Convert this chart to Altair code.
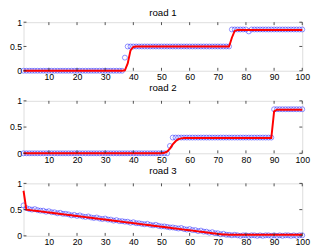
import altair as alt
import pandas as pd

x_index = list(range(1, 101))
x_ticks = [10, 20, 30, 40, 50, 60, 70, 80, 90, 100]
y_ticks = [0, 0.5, 1]
titles = ["road 1", "road 2", "road 3"]

road1_obs = [
    0, 0, 0, 0, 0, 0, 0, 0, 0, 0,
    0, 0, 0, 0, 0, 0, 0, 0, 0, 0,
    0, 0, 0, 0, 0, 0, 0, 0, 0, 0,
    0, 0, 0, 0, 0, 0, 0.27, 0.5, 0.5, 0.5,
    0.5, 0.5, 0.5, 0.5, 0.5, 0.5, 0.5, 0.5, 0.5, 0.5,
    0.5, 0.5, 0.5, 0.5, 0.5, 0.5, 0.5, 0.5, 0.5, 0.5,
    0.5, 0.5, 0.5, 0.5, 0.5, 0.5, 0.5, 0.5, 0.5, 0.5,
    0.5, 0.5, 0.5, 0.5, 0.85, 0.85, 0.85, 0.85, 0.85, 0.85,
    0.81, 0.85, 0.85, 0.85, 0.85, 0.85, 0.85, 0.85, 0.85, 0.85,
    0.85, 0.85, 0.85, 0.85, 0.85, 0.85, 0.85, 0.85, 0.85, 0.85,
]
road1_fit = [
    0, 0, 0, 0, 0, 0, 0, 0, 0, 0,
    0, 0, 0, 0, 0, 0, 0, 0, 0, 0,
    0, 0, 0, 0, 0, 0, 0, 0, 0, 0,
    0, 0, 0, 0, 0, 0, 0.01, 0.15, 0.42, 0.49,
    0.5, 0.5, 0.5, 0.5, 0.5, 0.5, 0.5, 0.5, 0.5, 0.5,
    0.5, 0.5, 0.5, 0.5, 0.5, 0.5, 0.5, 0.5, 0.5, 0.5,
    0.5, 0.5, 0.5, 0.5, 0.5, 0.5, 0.5, 0.5, 0.5, 0.5,
    0.5, 0.5, 0.5, 0.5, 0.68, 0.82, 0.84, 0.84, 0.84, 0.84,
    0.84, 0.84, 0.84, 0.84, 0.84, 0.84, 0.84, 0.84, 0.84, 0.84,
    0.84, 0.84, 0.84, 0.84, 0.84, 0.84, 0.84, 0.84, 0.84, 0.84,
]
road2_obs = [
    0, 0, 0, 0, 0, 0, 0, 0, 0, 0,
    0, 0, 0, 0, 0, 0, 0, 0, 0, 0,
    0, 0, 0, 0, 0, 0, 0, 0, 0, 0,
    0, 0, 0, 0, 0, 0, 0, 0, 0, 0,
    0, 0, 0, 0, 0, 0, 0, 0, 0, 0,
    0, 0, 0.14, 0.3, 0.3, 0.3, 0.3, 0.3, 0.3, 0.3,
    0.3, 0.3, 0.3, 0.3, 0.3, 0.3, 0.3, 0.3, 0.3, 0.3,
    0.3, 0.3, 0.3, 0.3, 0.3, 0.3, 0.3, 0.3, 0.3, 0.3,
    0.3, 0.3, 0.3, 0.3, 0.3, 0.3, 0.3, 0.3, 0.3, 0.84,
    0.84, 0.84, 0.84, 0.84, 0.84, 0.84, 0.84, 0.84, 0.84, 0.84,
]
road2_fit = [
    0, 0, 0, 0, 0, 0, 0, 0, 0, 0,
    0, 0, 0, 0, 0, 0, 0, 0, 0, 0,
    0, 0, 0, 0, 0, 0, 0, 0, 0, 0,
    0, 0, 0, 0, 0, 0, 0, 0, 0, 0,
    0, 0, 0, 0, 0, 0, 0, 0, 0, 0,
    0.01, 0.03, 0.09, 0.17, 0.23, 0.27, 0.285, 0.29, 0.29, 0.29,
    0.29, 0.29, 0.29, 0.29, 0.29, 0.29, 0.29, 0.29, 0.29, 0.29,
    0.29, 0.29, 0.29, 0.29, 0.29, 0.29, 0.29, 0.29, 0.29, 0.29,
    0.29, 0.29, 0.29, 0.29, 0.29, 0.29, 0.29, 0.29, 0.29, 0.8,
    0.83, 0.83, 0.83, 0.83, 0.83, 0.83, 0.83, 0.83, 0.83, 0.83,
]
road3_obs = [
    0.58, 0.53, 0.51, 0.50, 0.51, 0.49, 0.48, 0.48, 0.46, 0.47,
    0.45, 0.45, 0.43, 0.44, 0.42, 0.42, 0.41, 0.39, 0.40, 0.38,
    0.39, 0.37, 0.36, 0.37, 0.35, 0.34, 0.35, 0.33, 0.32, 0.33,
    0.31, 0.31, 0.29, 0.30, 0.28, 0.28, 0.27, 0.27, 0.25, 0.26,
    0.24, 0.24, 0.23, 0.22, 0.23, 0.21, 0.20, 0.21, 0.19, 0.18,
    0.18, 0.17, 0.16, 0.16, 0.15, 0.14, 0.15, 0.13, 0.12, 0.13,
    0.11, 0.11, 0.09, 0.10, 0.08, 0.08, 0.06, 0.07, 0.05, 0.05,
    0.03, 0.04, 0.02, 0.02, 0.01, 0.02, 0.01, 0.00, 0.01, 0.01,
    0.00, 0.01, 0.01, 0.00, 0.01, 0.00, 0.01, 0.01, 0.00, 0.01,
    0.00, 0.01, 0.00, 0.01, 0.01, 0.00, 0.01, 0.00, 0.01, 0.01,
]
road3_fit = [
    0.86, 0.500, 0.493, 0.486, 0.480, 0.473, 0.466, 0.459, 0.452, 0.446,
    0.439, 0.432, 0.425, 0.418, 0.412, 0.405, 0.398, 0.391, 0.384, 0.378,
    0.371, 0.364, 0.357, 0.350, 0.344, 0.337, 0.330, 0.323, 0.316, 0.310,
    0.303, 0.296, 0.289, 0.282, 0.276, 0.269, 0.262, 0.255, 0.248, 0.242,
    0.235, 0.228, 0.221, 0.214, 0.208, 0.201, 0.194, 0.187, 0.180, 0.174,
    0.167, 0.160, 0.153, 0.146, 0.140, 0.133, 0.126, 0.119, 0.112, 0.106,
    0.099, 0.092, 0.085, 0.078, 0.072, 0.065, 0.058, 0.051, 0.044, 0.038,
    0.032, 0.027, 0.024, 0.022, 0.021, 0.02, 0.02, 0.02, 0.02, 0.02,
    0.02, 0.02, 0.02, 0.02, 0.02, 0.02, 0.02, 0.02, 0.02, 0.02,
    0.02, 0.02, 0.02, 0.02, 0.02, 0.02, 0.02, 0.02, 0.02, 0.02,
]

W = 287
INK = "#222222"
FONT = "Liberation Sans"

XAXIS = alt.Axis(values=x_ticks, title=None, grid=False, domain=False,
                 ticks=False, labelPadding=2, labelFontSize=9,
                 labelColor="black", labelFont=FONT, labelFlush=False,
                 labelOverlap=False)
YAXIS = alt.Axis(values=y_ticks, format="~g", title=None, grid=False,
                 domain=False, ticks=False, labelPadding=2,
                 labelFontSize=9, labelColor="black", labelFont=FONT,
                 labelOverlap=False)
XS = alt.Scale(domain=[1, 100], nice=False, zero=False)
YS = alt.Scale(domain=[0, 1], nice=False, zero=False)


def panel(title, obs, fit, h, title_offset):
    df = pd.DataFrame({"x": x_index, "obs": obs, "fit": fit})
    base = alt.Chart(df)
    pts = base.mark_point(shape="circle", filled=False, color="#1a1aff",
                          size=26, strokeWidth=0.7).encode(
        x=alt.X("x:Q", scale=XS, axis=XAXIS),
        y=alt.Y("obs:Q", scale=YS, axis=YAXIS),
    )
    line = base.mark_line(color="#ff0000", strokeWidth=2).encode(
        x=alt.X("x:Q", scale=XS, axis=XAXIS),
        y=alt.Y("fit:Q", scale=YS, axis=YAXIS),
    )
    xt = alt.Chart(pd.DataFrame({"x": x_ticks}))
    bot = xt.mark_rule(color=INK, strokeWidth=0.8).encode(
        x=alt.X("x:Q", scale=XS, axis=XAXIS), y=alt.value(h), y2=alt.value(h - 3))
    top = xt.mark_rule(color=INK, strokeWidth=0.8).encode(
        x=alt.X("x:Q", scale=XS, axis=XAXIS), y=alt.value(0), y2=alt.value(3))
    yt = alt.Chart(pd.DataFrame({"obs": y_ticks}))
    left = yt.mark_rule(color=INK, strokeWidth=0.8).encode(
        y=alt.Y("obs:Q", scale=YS, axis=YAXIS), x=alt.value(0), x2=alt.value(3))
    right = yt.mark_rule(color=INK, strokeWidth=0.8).encode(
        y=alt.Y("obs:Q", scale=YS, axis=YAXIS), x=alt.value(W - 3), x2=alt.value(W))
    return alt.layer(pts, line, bot, top, left, right).properties(
        width=W, height=h,
        title=alt.TitleParams(title, fontSize=10, fontWeight="normal",
                              font=FONT, color="black", offset=title_offset,
                              frame="group"),
    )


chart = alt.vconcat(
    panel(titles[0], road1_obs, road1_fit, 50, 0),
    panel(titles[1], road2_obs, road2_fit, 54, 4),
    panel(titles[2], road3_obs, road3_fit, 54, 4),
    spacing=31, bounds="flush",
    padding={"left": 0, "top": -4, "right": 0, "bottom": 0},
).configure_view(stroke=INK, strokeWidth=1).configure(background="white")

chart.save("out.html", embed_options={"renderer": "svg", "actions": False})
